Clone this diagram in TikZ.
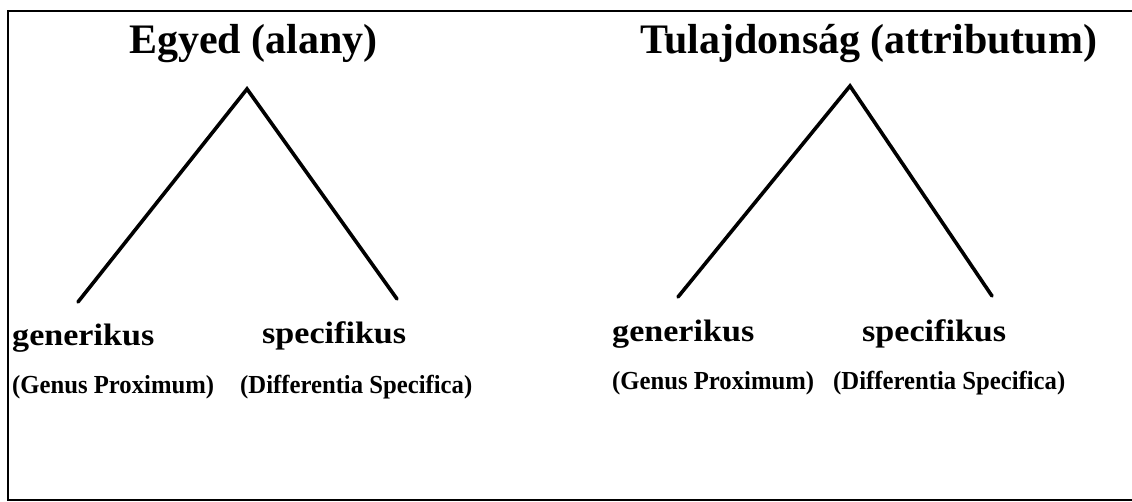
\documentclass[tikz,border=0pt]{standalone}
\usepackage{fontspec}
\setmainfont{Liberation Serif}
\usetikzlibrary{positioning}
\newcommand{\wide}[1]{\scalebox{1.1}[1]{#1}}
\newcommand{\narrow}[1]{\scalebox{0.95}[1]{#1}}

\begin{document}
\begin{tikzpicture}[x=1pt,y=-1pt,
  head/.style={font=\bfseries\fontsize{42}{48}\selectfont,anchor=base west,inner sep=0pt},
  term/.style={font=\bfseries\fontsize{31}{36}\selectfont,anchor=base west,inner sep=0pt},
  latin/.style={font=\bfseries\fontsize{26}{30}\selectfont,anchor=base west,inner sep=0pt},
  leg/.style={line width=3.6pt,line cap=round}]
  \useasboundingbox (0,0) rectangle (1132,502);
  % frame, open on the right
  \draw[line width=2.2pt] (1140,11) -- (8,11) -- (8,500) -- (1140,500);
  % headings
  \node[head] (egyed) at (129,54) {Egyed (alany)};
  \node[head] (tulaj) at (640,54) {Tulajdonság (attributum)};
  % left tree
  \coordinate (egyTop) at (247,89);
  \coordinate (egyL) at (78,302);
  \coordinate (egyR) at (397,299);
  \draw[leg] (egyL) -- (egyTop) -- (egyR);
  \node[term] (egyGen) at (12,345) {\wide{generikus}};
  \node[term] (egySpec) at (262,344) {\wide{specifikus}};
  \node[latin] (egyGenL) at (12,393) {\narrow{(Genus Proximum)}};
  \node[latin] (egySpecL) at (240,393) {\narrow{(Differentia Specifica)}};
  % right tree
  \coordinate (tulTop) at (850,86);
  \coordinate (tulL) at (678,297);
  \coordinate (tulR) at (992,296);
  \draw[leg] (tulL) -- (tulTop) -- (tulR);
  \node[term] (tulGen) at (612,342) {\wide{generikus}};
  \node[term] (tulSpec) at (862,342) {\wide{specifikus}};
  \node[latin] (tulGenL) at (612,389) {\narrow{(Genus Proximum)}};
  \node[latin] (tulSpecL) at (833,389) {\narrow{(Differentia Specifica)}};
\end{tikzpicture}
\end{document}
